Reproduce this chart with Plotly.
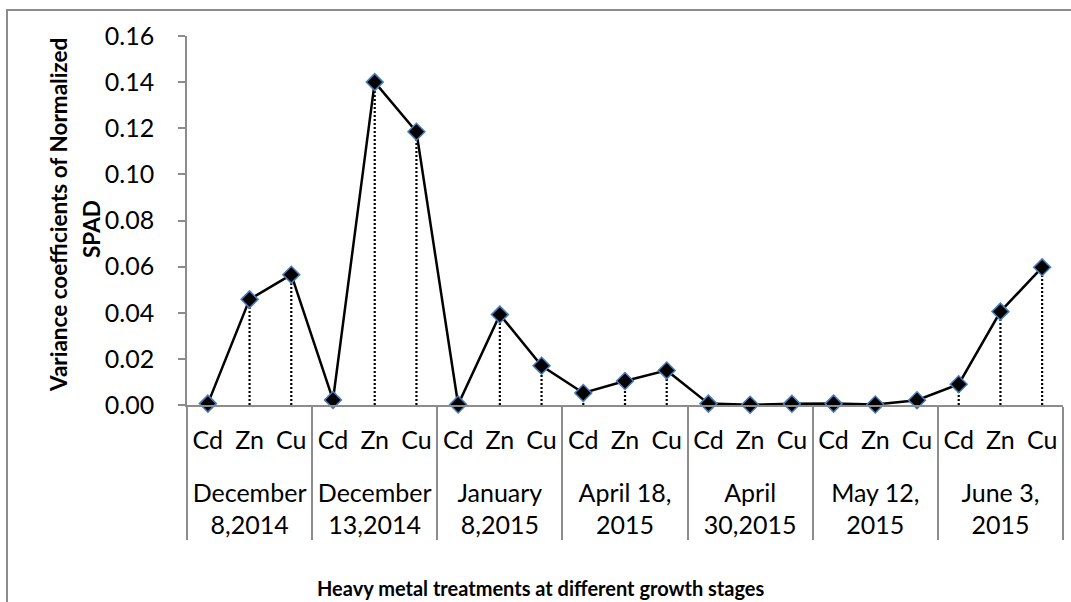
import plotly.graph_objects as go

# ---- data ----
stages = ["December<br>8,2014", "December<br>13,2014", "January<br>8,2015",
          "April 18,<br>2015", "April<br>30,2015", "May 12,<br>2015", "June 3,<br>2015"]
metals = ["Cd", "Zn", "Cu"]
dec8_2014 = [0.0006, 0.0458, 0.0565]
dec13_2014 = [0.0022, 0.1400, 0.1185]
jan8_2015 = [0.0002, 0.0392, 0.0170]
apr18_2015 = [0.0052, 0.0104, 0.0150]
apr30_2015 = [0.0006, 0.0001, 0.0005]
may12_2015 = [0.0006, 0.0002, 0.0021]
jun3_2015 = [0.0090, 0.0405, 0.0597]
series = [dec8_2014, dec13_2014, jan8_2015, apr18_2015, apr30_2015, may12_2015, jun3_2015]
y_ticks = [0.00, 0.02, 0.04, 0.06, 0.08, 0.10, 0.12, 0.14, 0.16]
y_title_lines = ["Variance coefficients of Normalized", "SPAD"]
x_title = "Heavy metal treatments at different growth stages"

x_stage, x_metal, y_val = [], [], []
for s, vals in zip(stages, series):
    for m, v in zip(metals, vals):
        x_stage.append("<br>" + s)   # leading blank line = spacing below the metal row
        x_metal.append(m)
        y_val.append(v)

FONT = "Lato"
fig = go.Figure()

# drop lines (dotted, from each point to the axis)
for s, m, v in zip(x_stage, x_metal, y_val):
    fig.add_trace(go.Scatter(
        x=[[s, s], [m, m]], y=[0, v], mode="lines",
        line=dict(color="black", width=2.2, dash="2px,2px"),
        hoverinfo="skip", showlegend=False, cliponaxis=False))

fig.add_trace(go.Scatter(
    x=[x_stage, x_metal], y=y_val, mode="lines+markers",
    line=dict(color="black", width=2.5),
    marker=dict(symbol="diamond", size=13, color="black",
                line=dict(color="#4a7ebb", width=1.5)),
    cliponaxis=False, showlegend=False))

L, R, T, B = 187, 8, 36, 197
W, H = 1071, 602
pw = W - L - R
ph = H - T - B

def px_x(x):
    return (x - L) / pw

def px_y(y):
    return (T + ph - y) / ph

fig.update_layout(
    width=W, height=H,
    margin=dict(l=L, r=R, t=T, b=B),
    plot_bgcolor="white", paper_bgcolor="white",
    font=dict(family=FONT, color="black"),
    xaxis=dict(
        type="multicategory",
        showline=True, linecolor="#8c8c8c", linewidth=2,
        ticks="", showgrid=False, zeroline=False,
        showdividers=True, dividercolor="#8c8c8c", dividerwidth=2,
        tickfont=dict(size=25, family=FONT, color="black"),
        ticklabelstandoff=12,
        range=[-0.5, 20.5],
    ),
    yaxis=dict(
        range=[0, 0.16], tickvals=y_ticks, tickformat=".2f",
        showline=True, linecolor="#8c8c8c", linewidth=1.5,
        ticks="outside", ticklen=7, tickcolor="#8c8c8c", tickwidth=1.5,
        showgrid=False, zeroline=False,
        tickfont=dict(size=25, family=FONT, color="black"),
        ticklabelstandoff=19,
    ),
    annotations=[
        dict(text="<b>%s</b>" % y_title_lines[0],
             textangle=-90, xref="paper", yref="paper",
             x=px_x(58), y=px_y(215),
             xanchor="center", yanchor="middle", showarrow=False,
             font=dict(size=22.5, family=FONT, color="black")),
        dict(text="<b>%s</b>" % y_title_lines[1],
             textangle=-90, xref="paper", yref="paper",
             x=px_x(91), y=px_y(229),
             xanchor="center", yanchor="middle", showarrow=False,
             font=dict(size=22.5, family=FONT, color="black")),
        dict(text="<b>%s</b>" % x_title,
             xref="paper", yref="paper",
             x=px_x(541), y=px_y(588),
             xanchor="center", yanchor="middle", showarrow=False,
             font=dict(size=20, family=FONT, color="black")),
    ],
    shapes=[
        dict(type="rect", xref="paper", yref="paper",
             x0=px_x(7), x1=px_x(1080),
             y0=px_y(620), y1=px_y(10),
             line=dict(color="#8c8c8c", width=2), layer="below"),
    ],
)

fig.write_html("out.html", config={"displayModeBar": False},
               post_script="document.body.style.margin='0';")
